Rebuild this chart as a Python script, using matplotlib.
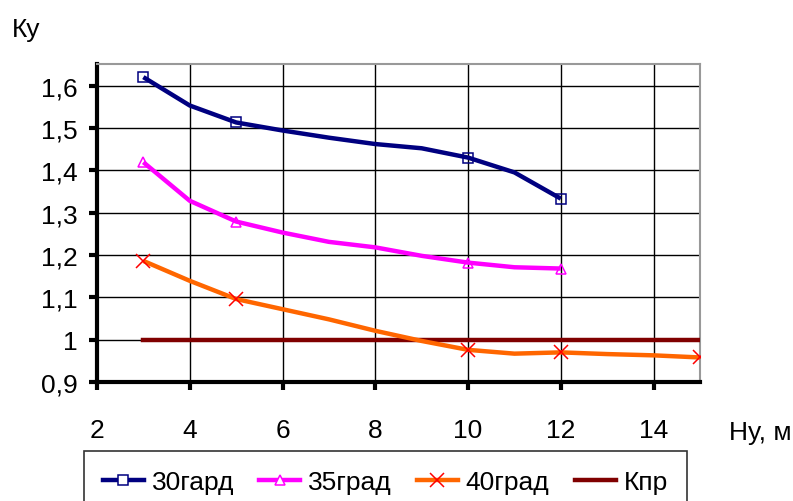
import matplotlib
matplotlib.use('Agg')
import matplotlib.pyplot as plt
from matplotlib.lines import Line2D

plt.rcParams['font.family'] = ['Liberation Sans', 'DejaVu Sans']

# Ку vs Ну for three slope angles
h = [3, 4, 5, 6, 7, 8, 9, 10, 11, 12, 13, 14, 15]
k30 = [1.62, 1.553, 1.513, 1.494, 1.477, 1.462, 1.452, 1.43, 1.395, 1.333]
k35 = [1.419, 1.328, 1.279, 1.253, 1.231, 1.218, 1.198, 1.182, 1.171, 1.168]
k40 = [1.186, 1.139, 1.096, 1.072, 1.048, 1.021, 0.997, 0.976, 0.967, 0.970, 0.966, 0.963, 0.958]
k_pr = [1.0] * len(h)
marked_h = [3, 5, 10, 12, 15]

labels = ['30гард', '35град', '40град', 'Кпр']
x_ticks = [2, 4, 6, 8, 10, 12, 14]
y_ticks = [0.9, 1.0, 1.1, 1.2, 1.3, 1.4, 1.5, 1.6]
y_ticklabels = ['0,9', '1', '1,1', '1,2', '1,3', '1,4', '1,5', '1,6']

navy = '#000080'
magenta = '#FF00FF'
orange = '#FF6600'
red = '#FF0000'
maroon = '#800000'

fig = plt.figure(figsize=(7.93, 5.02), dpi=100)
ax = fig.add_axes([0.1223, 0.237, 0.7604, 0.6335])

ax.plot(h, k_pr, color=maroon, lw=3.2, zorder=3)

series = [(k30, navy, 's', navy, 'none'),
          (k35, magenta, '^', magenta, 'none'),
          (k40, orange, 'x', red, red)]
for ys, col, mk, mec, mfc in series:
    xs = h[:len(ys)]
    ax.plot(xs, ys, color=col, lw=3.2, zorder=4, solid_capstyle='butt')
    mx = [x for x in xs if x in marked_h]
    my = [y for x, y in zip(xs, ys) if x in marked_h]
    ax.plot(mx, my, ls='none', marker=mk, ms=10 if mk == 'x' else 7,
            mec=mec, mfc=mfc, mew=1.1, zorder=5)

ax.set_xlim(2, 15)
ax.set_ylim(0.9, 1.651)
ax.set_xticks(x_ticks)
ax.set_yticks(y_ticks)
ax.set_yticklabels(y_ticklabels)
ax.grid(True, color='black', lw=1.0)
ax.set_axisbelow(True)

for s in ['top', 'right']:
    ax.spines[s].set_color('#999999')
    ax.spines[s].set_linewidth(1.5)
for s in ['left', 'bottom']:
    ax.spines[s].set_color('black')
    ax.spines[s].set_linewidth(3)

ax.tick_params(axis='both', direction='out', length=6, width=3, labelsize=19)
ax.tick_params(axis='y', pad=8)
ax.tick_params(axis='x', pad=20)

fig.text(26 / 793, 1 - 30 / 502, 'Ку', fontsize=19, ha='center', va='center')
fig.text(760 / 793, 1 - 433 / 502, 'Ну, м', fontsize=19, ha='center', va='center')

handles = [
    Line2D([], [], color=navy, lw=3.2, marker='s', ms=7, mec=navy, mfc='white', mew=1.1),
    Line2D([], [], color=magenta, lw=3.2, marker='^', ms=7, mec=magenta, mfc='white', mew=1.1),
    Line2D([], [], color=orange, lw=3.2, marker='x', ms=10, mec=red, mew=1.1),
    Line2D([], [], color=maroon, lw=3.2),
]
leg = fig.legend(handles, labels, loc='upper left', ncol=4, fontsize=19,
                 bbox_to_anchor=(84 / 793, 1 - 452 / 502), frameon=True, fancybox=False,
                 edgecolor='black', handlelength=1.55, handletextpad=0.3,
                 columnspacing=0.95, borderpad=0.72, borderaxespad=0, numpoints=1)
leg.get_frame().set_linewidth(1.2)

fig.savefig('out.png', dpi=100)
